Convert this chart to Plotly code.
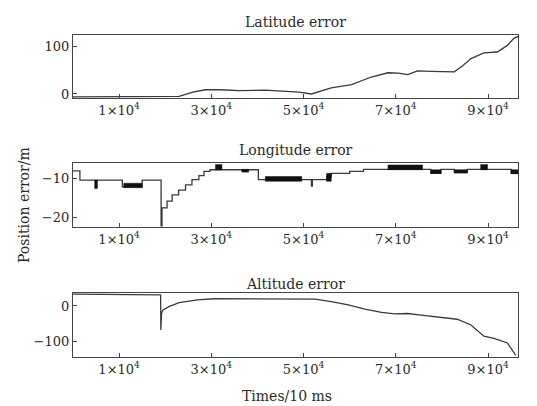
import plotly.graph_objects as go

# ---------------- data (x in samples of 10 ms) ----------------
lat_x = [0, 5000, 10000, 15000, 20000, 23000, 26000, 28700, 32000, 36000, 41700, 45000,
         49000, 51700, 56000, 60400, 64700, 68300, 70500, 72600, 74700, 77600, 80000,
         82700, 84500, 86300, 89100, 92000, 94200, 95600, 96500]
lat_y = [-6, -6, -6.5, -6, -6, -5, 4, 9, 9, 7, 8, 6, 4, 0, 13, 20, 36, 45, 44, 41, 49,
         48, 47, 47, 60, 75, 87, 89, 103, 118, 122]

lon_x = [0, 1500, 10700, 15000, 19100, 19300, 20400, 21500, 22900, 24400, 25800, 27300,
         28400, 29700, 40200, 51700, 51900, 55000, 56000, 60000, 63000, 77600, 79800,
         82700, 85500, 95000, 96500]
lon_y = [-8.2, -10.5, -12.2, -10.5, -22, -17.5, -15.8, -14.2, -13, -11.7, -10.4, -9.4,
         -8.3, -7.9, -10.4, -12.0, -10.4, -9.6, -8.8, -8.3, -7.8, -8.8, -7.8, -8.6, -7.8,
         -8.8, -8.8]
# rapidly oscillating segments: start, end, low, high
blk_x0 = [4700, 11000, 30900, 36600, 41700, 55000, 68300, 77600, 82700, 88400, 95000]
blk_x1 = [5300, 15000, 32300, 38100, 49600, 56000, 75800, 79800, 85500, 89900, 96500]
blk_lo = [-12.6, -12.4, -7.9, -8.5, -10.8, -10.8, -7.9, -8.8, -8.7, -7.9, -8.9]
blk_hi = [-10.5, -11.3, -6.6, -7.8, -9.6, -8.8, -6.7, -7.9, -7.9, -6.6, -7.9]

alt_x = [0, 10000, 15000, 19000, 19050, 19200, 19500, 20800, 23000, 27000, 30600, 40000,
         50000, 52500, 56000, 59700, 63300, 66900, 69800, 72600, 75000, 77600, 81500,
         83300, 86300, 89100, 91300, 94200, 96000]
alt_y = [33, 33, 32, 31, -67, -20, -11, -2, 9, 17, 20, 20, 20, 19, 12, 3, -9, -18, -22,
         -21, -25, -29, -34, -37, -53, -84, -90, -103, -137]

xtick_vals = [10000, 30000, 50000, 70000, 90000]
xtick_text = ["1×10<sup>4</sup>", "3×10<sup>4</sup>", "5×10<sup>4</sup>",
              "7×10<sup>4</sup>", "9×10<sup>4</sup>"]
titles = ["Latitude error", "Longitude error", "Altitude error"]

FONT = "DejaVu Serif"
LC = "#3a3a3a"
TC = "#2a2a2a"

fig = go.Figure()
fig.add_trace(go.Scatter(x=lat_x, y=lat_y, mode="lines", line=dict(color=LC, width=1.3),
                         xaxis="x", yaxis="y", showlegend=False))
fig.add_trace(go.Scatter(x=lon_x, y=lon_y, mode="lines", line=dict(color=LC, width=1.3, shape="hv"),
                         xaxis="x2", yaxis="y2", showlegend=False))
for x0, x1, lo, hi in zip(blk_x0, blk_x1, blk_lo, blk_hi):
    fig.add_trace(go.Scatter(x=[x0, x1, x1, x0, x0], y=[lo, lo, hi, hi, lo], mode="lines",
                             fill="toself", fillcolor="#111111", line=dict(color="#111111", width=0.5),
                             xaxis="x2", yaxis="y2", showlegend=False))
fig.add_trace(go.Scatter(x=alt_x, y=alt_y, mode="lines", line=dict(color=LC, width=1.3),
                         xaxis="x3", yaxis="y3", showlegend=False))

W, H = 537, 406
L, R, T, B = 73, 19, 35, 49
ph = H - T - B

def frac(ypx):
    return (H - B - ypx) / ph

axis_common = dict(showline=True, mirror=True, linecolor="#444", linewidth=1.2,
                   ticks="inside", ticklen=4, tickcolor="#444", showgrid=False, zeroline=False,
                   tickfont=dict(family=FONT, size=13, color=TC))

doms = [(frac(98), frac(35)), (frac(227), frac(163)), (frac(357), frac(293))]
yranges = [[-8.5, 125], [-22.3, -6.2], [-142, 36]]
ytick_vals = [[0, 100], [-20, -10], [-100, 0]]

lay = dict(width=W, height=H, margin=dict(l=L, r=R, t=T, b=B),
           paper_bgcolor="white", plot_bgcolor="white",
           font=dict(family=FONT, color=TC))
for i in range(3):
    sx = "" if i == 0 else str(i + 1)
    lay["xaxis" + sx] = dict(axis_common, domain=[0, 1], range=[0, 96500], tickvals=xtick_vals,
                             ticktext=xtick_text, anchor="y" + sx)
    lay["yaxis" + sx] = dict(axis_common, domain=list(doms[i]), range=yranges[i],
                             tickvals=ytick_vals[i], anchor="x" + sx, ticklabelstandoff=0)
fig.update_layout(**lay)

title_y = [22, 150, 284]
for t, ypx in zip(titles, title_y):
    fig.add_annotation(text=t, xref="paper", yref="paper", x=0.5, y=frac(ypx),
                       showarrow=False, font=dict(family=FONT, size=14, color=TC),
                       xanchor="center", yanchor="middle")
fig.add_annotation(text="Times/10 ms", xref="paper", yref="paper", x=(287 - L) / (W - L - R),
                   y=frac(396), showarrow=False, font=dict(family=FONT, size=14, color=TC),
                   xanchor="center", yanchor="middle")
fig.add_annotation(text="Position error/m", xref="paper", yref="paper", x=(24 - L) / (W - L - R),
                   y=frac(205), showarrow=False, textangle=-90,
                   font=dict(family=FONT, size=14, color=TC),
                   xanchor="center", yanchor="middle")

fig.write_html("out.html", config={"displayModeBar": False},
               post_script="document.body.style.margin='0px';document.body.style.overflow='hidden';")
